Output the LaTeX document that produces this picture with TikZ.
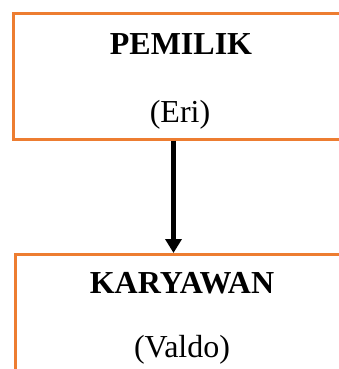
\documentclass[tikz,border=0pt]{standalone}
\usepackage{fontspec}
\setmainfont{Liberation Serif}
\usetikzlibrary{arrows.meta}
\definecolor{boxorange}{HTML}{ED7D31}
\tikzset{
  orgbox/.style={draw=boxorange, line width=2.6pt, rectangle, inner sep=0pt},
  title/.style={font=\fontsize{32}{38}\selectfont\bfseries, inner sep=0pt},
  person/.style={font=\fontsize{32}{38}\selectfont, inner sep=0pt},
  link/.style={line width=4.2pt, -{Triangle[length=14pt,width=16pt]}}
}
\begin{document}
\begin{tikzpicture}[x=1pt,y=-1pt]
\useasboundingbox (0,0) rectangle (339,369);
\clip (0,0) rectangle (339,369);
% owner box
\node[orgbox, minimum width=340pt, minimum height=126pt, anchor=north west] (owner) at (12,12) {};
\node[title, anchor=base] (ownertitle) at (181,55) {PEMILIK};
\node[person, anchor=base] (ownername) at (180,122) {(Eri)};
% employee box
\node[orgbox, minimum width=340pt, minimum height=140pt, anchor=north west] (staff) at (14,253) {};
\node[title, anchor=base] (stafftitle) at (182,293) {KARYAWAN};
\node[person, anchor=base] (staffname) at (182,357) {(Valdo)};
% connector
\coordinate (ax) at (173.5,0);
\draw[link] (owner.south -| ax) -- (staff.north -| ax);
\end{tikzpicture}
\end{document}
